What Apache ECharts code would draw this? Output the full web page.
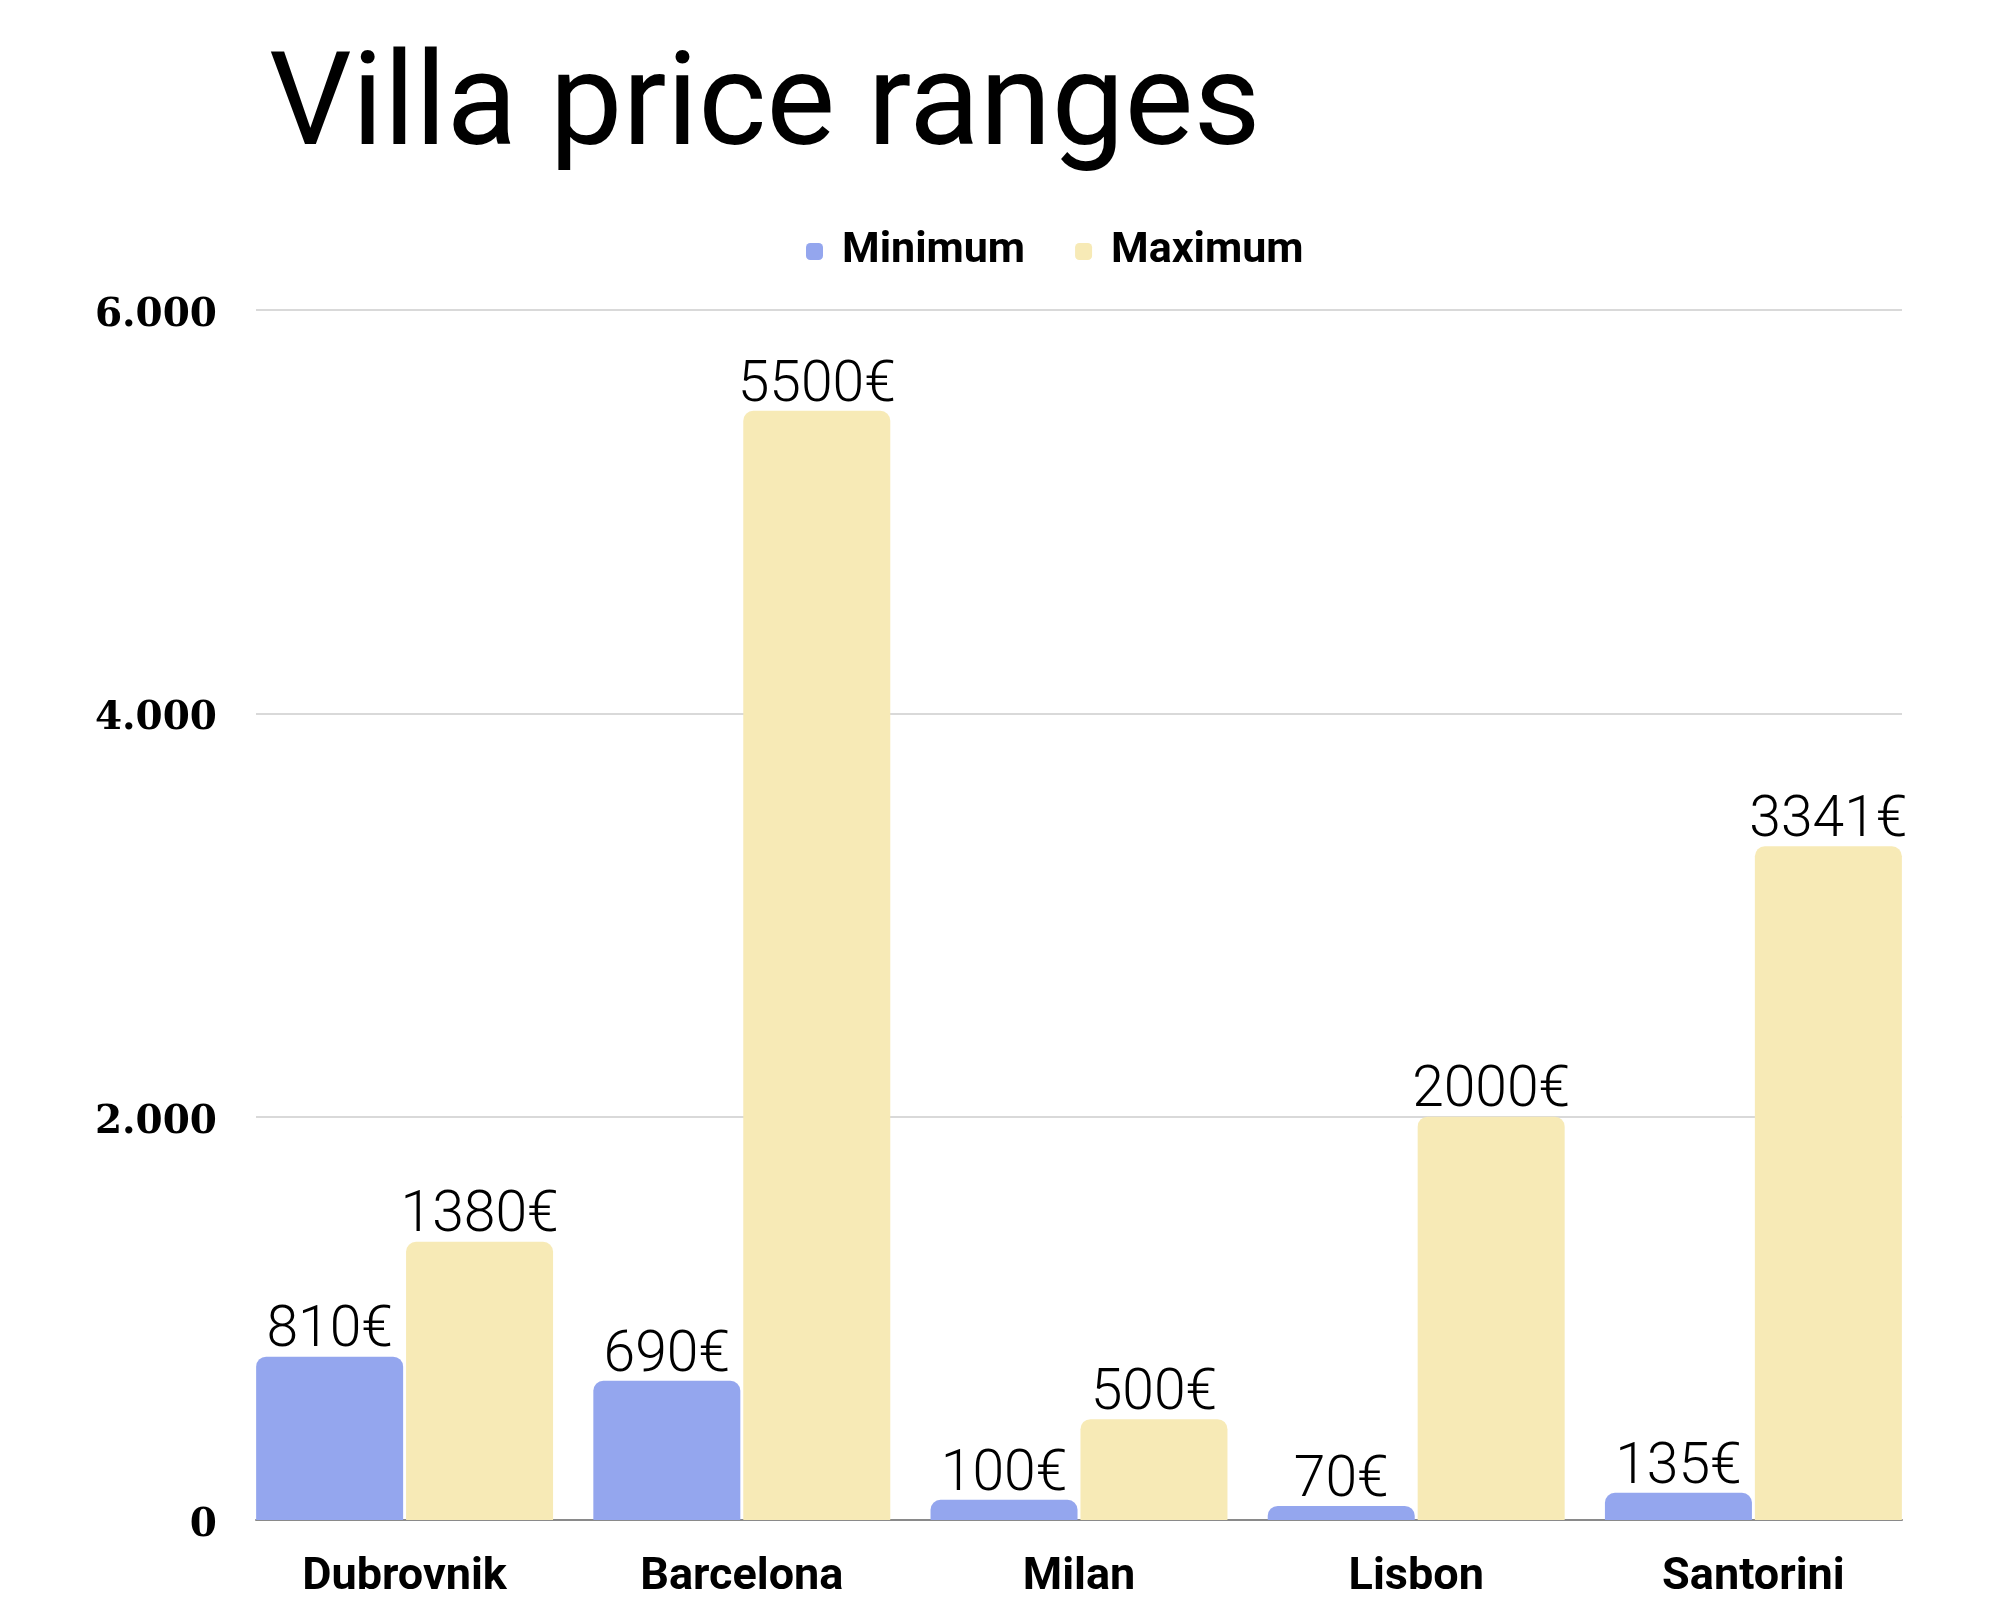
<!DOCTYPE html>
<html>
<head>
<meta charset="utf-8">
<script src="https://cdn.jsdelivr.net/npm/echarts@6/dist/echarts.min.js"></script>
<style>
html,body{margin:0;padding:0;background:#fff;}
#chart{width:2000px;height:1600px;}
</style>
</head>
<body>
<div id="chart"></div>
<script>
const categories = ['Dubrovnik', 'Barcelona', 'Milan', 'Lisbon', 'Santorini'];
const minimumValues = [810, 690, 100, 70, 135];
const maximumValues = [1380, 5500, 500, 2000, 3341];
const seriesNames = ['Minimum', 'Maximum'];
const yTicks = [0, 2000, 4000, 6000];

const chart = echarts.init(document.getElementById('chart'));

function fmtThousands(v) {
  return String(v).replace(/\B(?=(\d{3})+(?!\d))/g, '.');
}

const labelStyle = {
  show: true,
  position: 'top',
  distance: -4,
  formatter: p => p.value + '€',
  color: '#000',
  fontFamily: 'Roboto',
  fontWeight: 300,
  fontSize: 57
};

chart.setOption({
  backgroundColor: '#ffffff',
  animation: false,
  title: {
    text: 'Villa price ranges',
    left: 264,
    top: 41,
    textStyle: { fontFamily: 'Roboto', fontWeight: 400, fontSize: 130, color: '#000' }
  },
  legend: {
    left: 801,
    top: 225,
    itemWidth: 17,
    itemHeight: 17,
    itemGap: 50,
    icon: 'roundRect',
    data: seriesNames,
    textStyle: { fontFamily: 'Roboto', fontWeight: 700, fontSize: 43, color: '#000', padding: [0, 0, 0, 14] }
  },
  grid: [
    { left: 256, right: 98, top: 310, bottom: 80 },
    { left: 236, right: 78, top: 310, bottom: 80 }
  ],
  xAxis: [
    {
      type: 'category', gridIndex: 0, data: categories,
      axisLine: { show: true, lineStyle: { color: '#8a8a8a', width: 2 } },
      axisTick: { show: false }, axisLabel: { show: false }, splitLine: { show: false }
    },
    {
      type: 'category', gridIndex: 1, data: categories,
      axisLine: { show: false }, axisTick: { show: false },
      axisLabel: { margin: 35, fontFamily: 'Roboto', fontWeight: 700, fontSize: 45, color: '#000' }
    }
  ],
  yAxis: [
    {
      type: 'value', gridIndex: 0, min: yTicks[0], max: yTicks[yTicks.length - 1], interval: yTicks[1] - yTicks[0],
      axisLine: { show: false }, axisTick: { show: false },
      splitLine: { lineStyle: { color: '#cccccc', width: 1.5 } },
      axisLabel: {
        margin: 39,
        formatter: v => '{v|' + fmtThousands(v) + '}',
        rich: { v: { padding: [12, 0, 0, 0], fontFamily: 'DejaVu Serif', fontWeight: 700, fontSize: 39, color: '#000' } }
      }
    },
    {
      type: 'value', gridIndex: 1, min: yTicks[0], max: yTicks[yTicks.length - 1], interval: yTicks[1] - yTicks[0],
      show: false, splitLine: { show: false }
    }
  ],
  series: [
    {
      name: seriesNames[0], type: 'bar', xAxisIndex: 1, yAxisIndex: 1,
      data: minimumValues, barWidth: 147, barGap: '2%',
      itemStyle: { color: '#94a6ee', borderRadius: [10, 10, 0, 0] },
      label: labelStyle
    },
    {
      name: seriesNames[1], type: 'bar', xAxisIndex: 1, yAxisIndex: 1,
      data: maximumValues, barWidth: 147, barGap: '2%',
      itemStyle: { color: '#f7eab6', borderRadius: [10, 10, 0, 0] },
      label: labelStyle
    }
  ]
});
</script>
</body>
</html>
